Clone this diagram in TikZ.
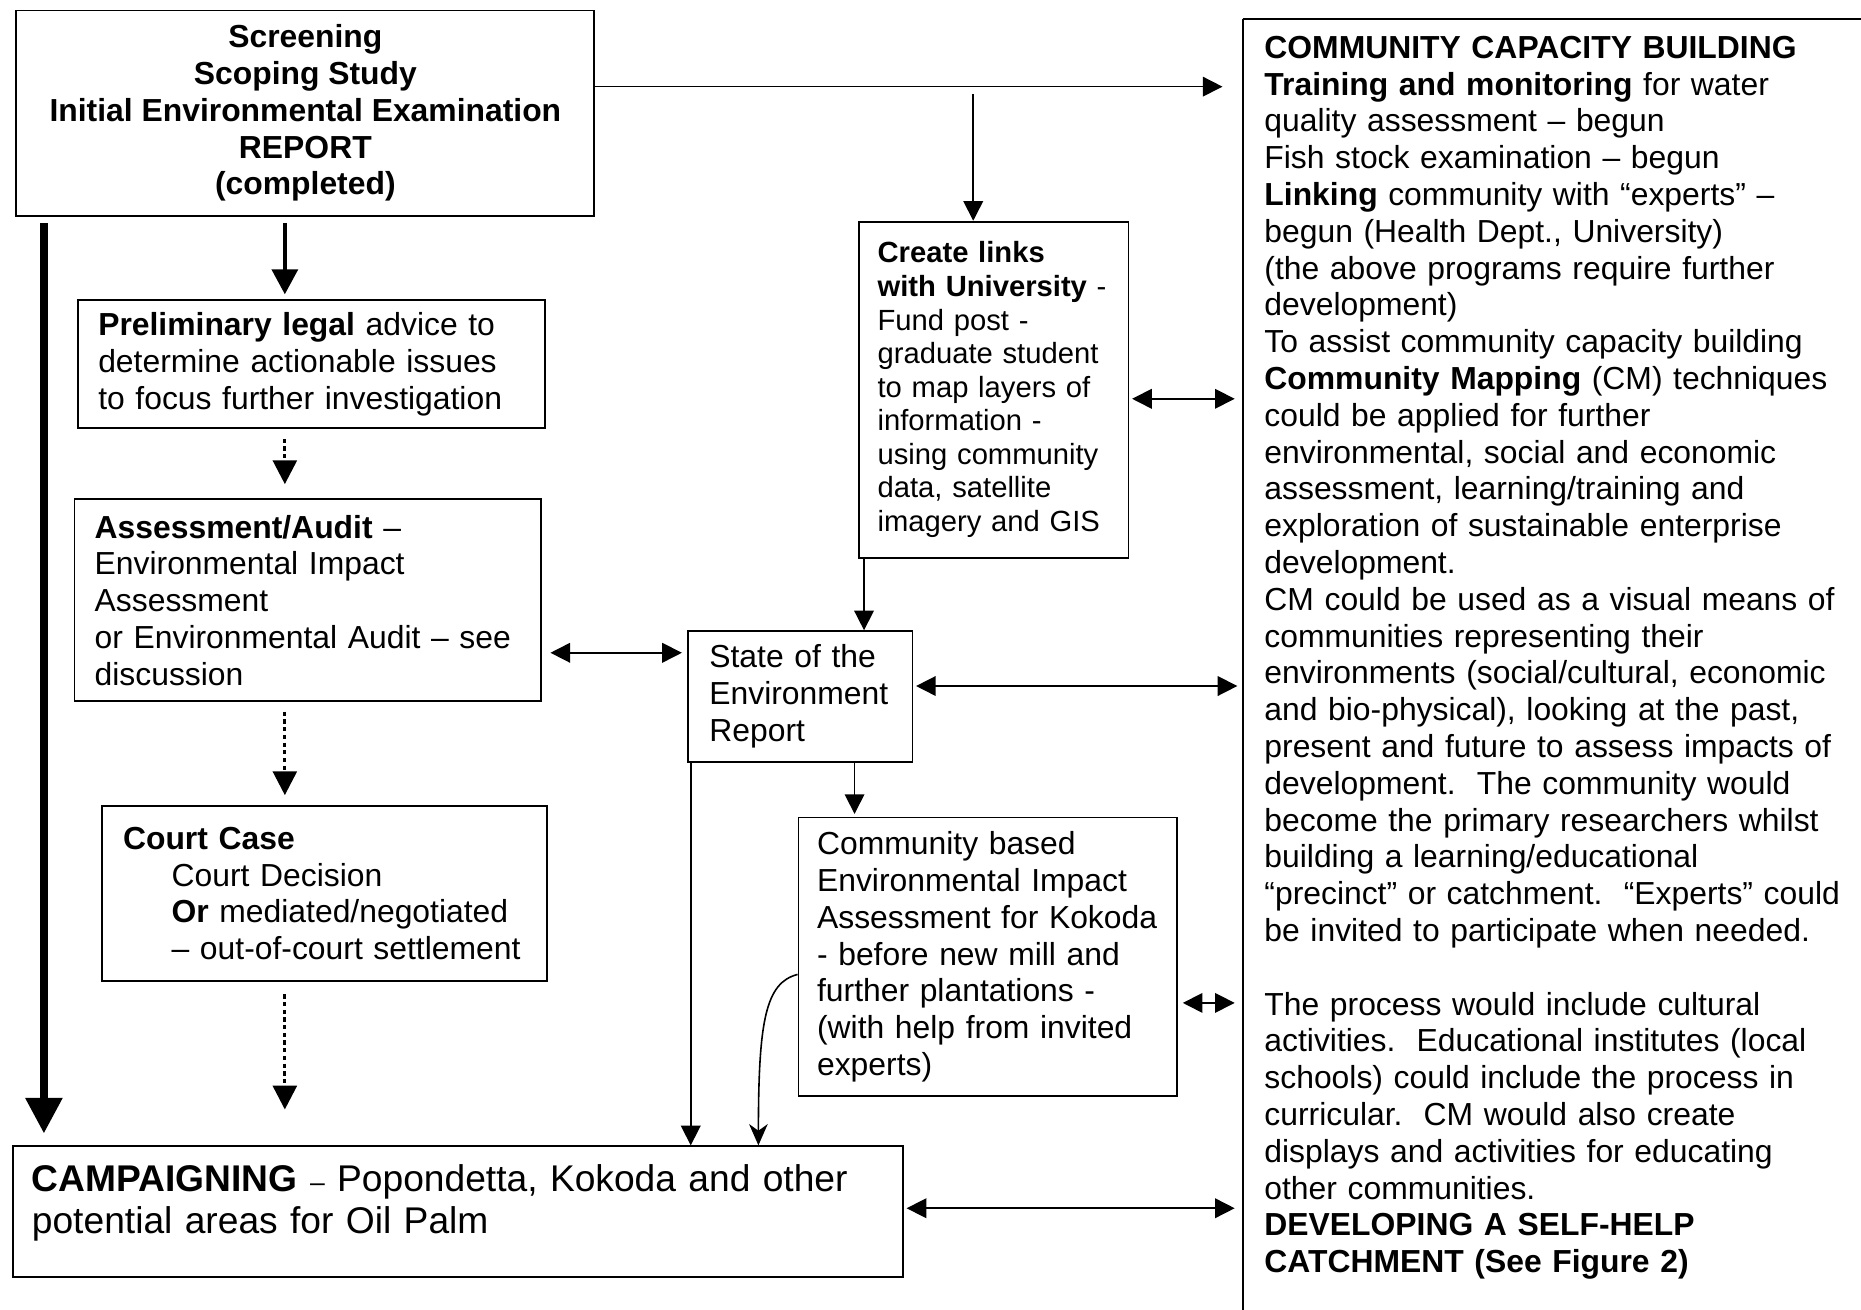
\documentclass[tikz,border=0pt]{standalone}
\usepackage{fontspec}
\setmainfont{Liberation Sans}
\usepackage{tikz}
\usetikzlibrary{arrows.meta}
\tikzset{
    plain_box/.style = {draw=black, line width=0.7pt, anchor=north west, align=left, inner ysep=3pt, font=\fontsize{12}{13.86}\selectfont},
    title_box/.style = {plain_box, align=center, font=\fontsize{12}{13.86}\selectfont\bfseries},
    link_box/.style = {plain_box, font=\fontsize{11}{12.65}\selectfont},
    camp_box/.style = {plain_box, inner ysep=7pt, font=\fontsize{14}{15.6}\selectfont},
    note_box/.style = {anchor=north west, align=left, inner xsep=8pt, inner ysep=6.2pt, text width=240pt, font=\fontsize{12}{13.86}\selectfont}
}
\tikzset{
    thin_arrow/.style = {line width=0.6pt, -{Triangle[length=7.4pt, width=7.4pt]}},
    two_arrow/.style = {line width=0.6pt, {Triangle[length=7.4pt, width=7.4pt]}-{Triangle[length=7.4pt, width=7.4pt]}},
    dot_arrow/.style = {line width=1.2pt, dash pattern=on 1.6pt off 1.3pt, -{Triangle[length=9pt, width=9pt]}},
    mid_arrow/.style = {line width=1.5pt, -{Triangle[length=9.4pt, width=9.7pt]}},
    thick_arrow/.style = {line width=2.8pt, -{Triangle[length=13.4pt, width=13.4pt]}},
    bend_arrow/.style = {line width=0.6pt, -{Stealth[length=8pt, width=7pt, inset=2.5pt]}}
}
\begin{document}
\begin{tikzpicture}[x=0.447pt, y=-0.447pt]
    \useasboundingbox (0,0) rectangle (1568,1103);

    % left column
    \node [title_box, minimum width=217.7pt, minimum height=77.3pt] (report) at (13,8)
        {Screening\\Scoping Study\\Initial Environmental Examination\\REPORT\\(completed)};
    \node [plain_box, inner xsep=7.6pt, text width=160.5pt, minimum height=48.3pt] (legal) at (65,252)
        {\textbf{Preliminary legal} advice to\\determine actionable issues\\to focus further investigation};
    \node [plain_box, inner xsep=7.6pt, text width=160.5pt, minimum height=76pt] (audit) at (62,420)
        {\textbf{Assessment/Audit} –\\Environmental Impact\\Assessment\\or Environmental Audit – see\\discussion};
    \node [plain_box, inner xsep=8pt, text width=151.6pt, minimum height=66.2pt] (court) at (85,678)
        {\textbf{Court Case}\\\hspace*{18.3pt}Court Decision\\\hspace*{18.3pt}\textbf{Or} mediated/negotiated\\\hspace*{18.3pt}– out-of-court settlement};
    \node [camp_box, inner xsep=7.2pt, text width=320.9pt] (camp) at (10,965)
        {\textbf{CAMPAIGNING} {\fontsize{10}{12}\selectfont –} Popondetta, Kokoda and other\\potential areas for Oil Palm\rule[-9.5pt]{0pt}{9.5pt}};

    % middle column
    \node [link_box, inner xsep=7pt, text width=87.5pt, minimum height=126.5pt] (links) at (723,186)
        {\textbf{Create links}\\\textbf{with University} -\\Fund post -\\graduate student\\to map layers of\\information -\\using community\\data, satellite\\imagery and GIS};
    \node [plain_box, inner xsep=8pt, text width=68.5pt, minimum height=49.2pt] (soe) at (579,531)
        {State of the\\Environment\\Report};
    \node [plain_box, inner xsep=7pt, text width=128.6pt, minimum height=105pt] (ceia) at (672,688)
        {Community based\\Environmental Impact\\Assessment for Kokoda\\- before new mill and\\further plantations -\\(with help from invited\\experts)};

    % right column
    \node [note_box] (ccb) at (1047,16)
        {\textbf{COMMUNITY CAPACITY BUILDING}\\
        \textbf{Training and monitoring} for water\\
        quality assessment – begun\\
        Fish stock examination – begun\\
        \textbf{Linking} community with “experts” –\\
        begun (Health Dept., University)\\
        (the above programs require further\\
        development)\\
        To assist community capacity building\\
        \textbf{Community Mapping} (CM) techniques\\
        could be applied for further\\
        environmental, social and economic\\
        assessment, learning/training and\\
        exploration of sustainable enterprise\\
        development.\\
        CM could be used as a visual means of\\
        communities representing their\\
        environments (social/cultural, economic\\
        and bio-physical), looking at the past,\\
        present and future to assess impacts of\\
        development.\ \ The community would\\
        become the primary researchers whilst\\
        building a learning/educational\\
        “precinct” or catchment.\ \ “Experts” could\\
        be invited to participate when needed.\\[13.86pt]
        The process would include cultural\\
        activities.\ \ Educational institutes (local\\
        schools) could include the process in\\
        curricular.\ \ CM would also create\\
        displays and activities for educating\\
        other communities.\\
        \textbf{DEVELOPING A SELF-HELP}\\
        \textbf{CATCHMENT (See Figure 2)}};
    \draw [line width=0.7pt] (ccb.north west) -- ++(0,1120) (ccb.north west) -- ++(600,0);

    \coordinate (fork) at (820,79);
    \coordinate (side) at (37,188);
    \coordinate (down) at (240,188);

    \draw [thin_arrow, shorten >=7.6pt] (report.east |- 0,73) -- (ccb.west |- 0,73);
    \draw [thin_arrow] (fork) -- (fork |- links.north);
    \draw [thick_arrow, shorten >=4.5pt] (side) -- (side |- camp.north);
    \draw [mid_arrow, shorten >=1.8pt] (down) -- (down |- legal.north);
    \draw [dot_arrow, shorten <=3.6pt, shorten >=5.4pt] (legal.south -| down) -- (audit.north -| down);
    \draw [dot_arrow, shorten <=3.6pt, shorten >=3.6pt] (audit.south -| down) -- (court.north -| down);
    \draw [dot_arrow, shorten <=4.5pt, shorten >=13.5pt] (court.south -| down) -- (camp.north -| down);

    \draw [two_arrow, shorten <=3.2pt, shorten >=2pt] (audit.east |- 0,550) -- (soe.west |- 0,550);
    \draw [thin_arrow] (links.south -| 728,0) -- (soe.north -| 728,0);
    \draw [two_arrow, shorten <=1pt, shorten >=3pt] (links.east |- 0,336) -- (ccb.west |- 0,336);
    \draw [two_arrow, shorten <=1pt, shorten >=2pt] (soe.east |- 0,578) -- (ccb.west |- 0,578);
    \draw [thin_arrow, shorten >=1pt] (soe.south -| 720,0) -- (ceia.north -| 720,0);
    \draw [thin_arrow] (soe.south -| 582,0) -- (camp.north -| 582,0);
    \draw [bend_arrow] (ceia.west |- 0,821) .. controls (645,828) and (639,860) .. (camp.north -| 639,0);
    \draw [two_arrow, shorten <=1.8pt, shorten >=3pt] (ceia.east |- 0,845) -- (ccb.west |- 0,845);
    \draw [two_arrow, shorten <=1pt, shorten >=3pt] (camp.east |- 0,1018) -- (ccb.west |- 0,1018);
\end{tikzpicture}
\end{document}
